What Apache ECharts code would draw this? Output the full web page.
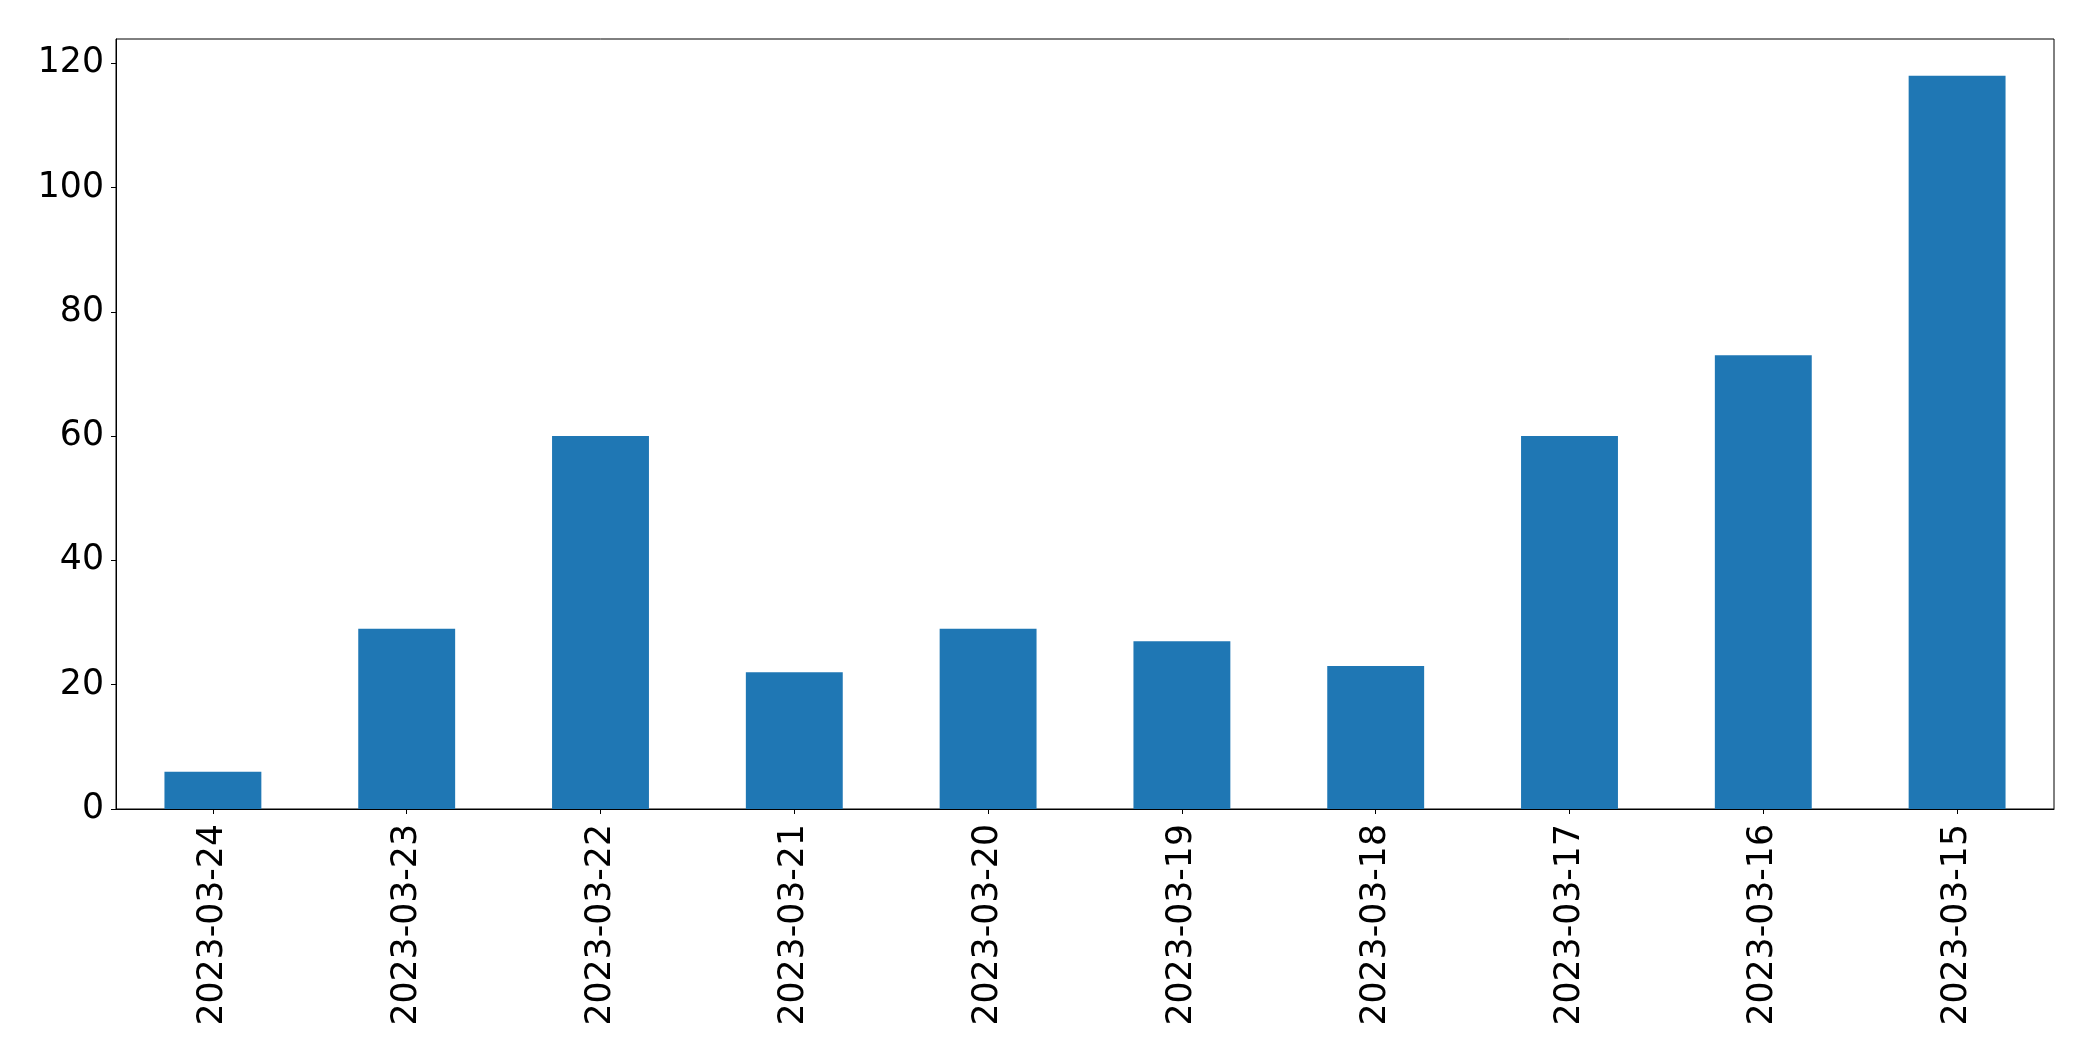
<!DOCTYPE html>
<html>
<head>
<meta charset="utf-8">
<script src="https://cdn.jsdelivr.net/npm/echarts@6/dist/echarts.min.js"></script>
<style>
html,body{margin:0;padding:0;background:#fff;}
#chart{width:2093px;height:1061px;}
</style>
</head>
<body>
<div id="chart"></div>
<script>
const categories = ["2023-03-24","2023-03-23","2023-03-22","2023-03-21","2023-03-20","2023-03-19","2023-03-18","2023-03-17","2023-03-16","2023-03-15"];
const values = [6, 29, 60, 22, 29, 27, 23, 60, 73, 118];
const yTicks = [0, 20, 40, 60, 80, 100, 120];
const yMax = 123.9;

const chart = echarts.init(document.getElementById('chart'), null, {renderer: 'canvas'});
const font = 'DejaVu Sans';
chart.setOption({
  animation: false,
  backgroundColor: '#ffffff',
  grid: {
    left: 116, right: 39, top: 39, bottom: 252,
    show: true, borderColor: '#000', borderWidth: 1, backgroundColor: 'transparent'
  },
  xAxis: {
    type: 'category',
    data: categories,
    boundaryGap: true,
    axisLine: {show: true, lineStyle: {color: '#000', width: 1}},
    axisTick: {show: true, alignWithLabel: true, length: 5, lineStyle: {color: '#000', width: 1}},
    axisLabel: {rotate: 90, margin: 15, color: '#000', fontSize: 34.7, fontFamily: font},
    splitLine: {show: false}
  },
  yAxis: {
    type: 'value',
    min: 0, max: yMax, interval: 20,
    axisLine: {show: true, lineStyle: {color: '#000', width: 1}},
    axisTick: {show: true, length: 5, lineStyle: {color: '#000', width: 1}, customValues: yTicks},
    axisLabel: {margin: 12, color: '#000', fontSize: 34.7, fontFamily: font, customValues: yTicks},
    splitLine: {show: false}
  },
  series: [{
    type: 'bar',
    data: values,
    barWidth: '50%',
    itemStyle: {color: '#1f77b4'}
  }]
});
</script>
</body>
</html>
